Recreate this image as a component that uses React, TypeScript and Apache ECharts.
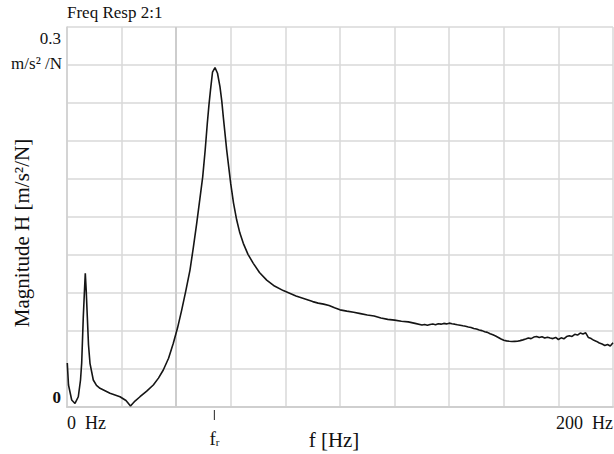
import React, { useEffect, useRef } from "react";
import * as echarts from "echarts";

// Frequency axis (Hz) and magnitude (m/s²/N)
const freqLow = [0.1, 0.55, 1.72, 2.93, 4.14, 4.95, 5.38, 5.97, 6.41, 6.7, 7.03, 7.44, 7.88, 8.42, 9.63, 10.8, 12.09, 15.75, 19.41, 21.6, 23.26, 24.9, 26.74, 29.2, 31.61, 33.5, 35.27, 37.2, 38.94, 40.5, 42.01, 43.5, 45.05, 46.3, 47.51, 48.6, 49.71, 50.6, 51.39, 52.0, 52.56, 53.3, 54.21, 55.13, 56.04, 56.7, 57.25, 58.5, 59.96, 61.0, 62.16, 63.3, 64.58, 66.3, 68.24, 70.5, 73.15, 76.0, 79.23, 83.88];
const magLow = [0.0347, 0.0174, 0.0055, 0.0028, 0.0081, 0.0213, 0.0347, 0.0713, 0.0923, 0.1055, 0.0923, 0.0713, 0.0489, 0.0345, 0.0213, 0.017, 0.0148, 0.0108, 0.0081, 0.0051, 0.0008, 0.0047, 0.0081, 0.0125, 0.0174, 0.0228, 0.0292, 0.0385, 0.0503, 0.0625, 0.0765, 0.0915, 0.1081, 0.1262, 0.1449, 0.1632, 0.1817, 0.2025, 0.2238, 0.2385, 0.2501, 0.2643, 0.2679, 0.2635, 0.2527, 0.2415, 0.2291, 0.2028, 0.1765, 0.1610, 0.1476, 0.1375, 0.1292, 0.1205, 0.1134, 0.1062, 0.1002, 0.0955, 0.0919, 0.0876];
const freqMid = [90, 92, 94, 96, 98, 100, 102.5, 105, 107.5, 110, 112.5, 115, 117.5, 120, 122.5, 125, 127.5];
const magMid = [0.0832, 0.082, 0.0812, 0.0801, 0.0783, 0.0767, 0.0757, 0.0748, 0.0737, 0.0726, 0.0718, 0.0702, 0.0692, 0.0686, 0.0677, 0.0672, 0.066];
const freqHigh = [130, 131, 132, 133, 134, 135, 136, 137, 138, 139, 140, 141, 142, 143, 144, 145, 146, 147, 148, 149, 150, 151, 152, 153, 154, 155, 156, 157, 158, 159, 160, 161, 162, 163, 164, 165, 166, 167, 168, 169, 170, 171, 172, 173, 174, 175, 176, 177, 178, 179, 180, 181, 182, 183, 184, 185, 186, 187, 188, 189, 190, 191, 192, 193, 194, 195, 196, 197, 198, 199, 200];
const magHigh = [0.0647, 0.0652, 0.0645, 0.0651, 0.0655, 0.065, 0.0657, 0.0654, 0.066, 0.0656, 0.0662, 0.0657, 0.0654, 0.0649, 0.0646, 0.0641, 0.0637, 0.0632, 0.0628, 0.062, 0.0616, 0.0608, 0.0603, 0.0594, 0.0589, 0.0578, 0.057, 0.056, 0.0549, 0.0537, 0.0527, 0.0522, 0.0519, 0.0517, 0.0518, 0.0519, 0.0524, 0.053, 0.0537, 0.0545, 0.054, 0.0552, 0.0556, 0.0548, 0.0554, 0.0544, 0.0551, 0.0545, 0.054, 0.0549, 0.0533, 0.0546, 0.0538, 0.0556, 0.0563, 0.0557, 0.0574, 0.0568, 0.0584, 0.0576, 0.0586, 0.0548, 0.054, 0.0526, 0.0518, 0.0505, 0.0497, 0.0486, 0.0494, 0.0482, 0.0507];

const resonanceFreq = 54;
const title = "Freq Resp 2:1";
const yTopLabel = "0.3";
const yUnitLabel = "m/s² /N";
const yZeroLabel = "0";
const xStartLabel = "0  Hz";
const xEndLabel = "200  Hz";
const xTitle = "f [Hz]";
const yTitle = "Magnitude H [m/s²/N]";

const FONT = "'Liberation Serif', 'DejaVu Serif', serif";

export default function App() {
  const ref = useRef<HTMLDivElement>(null);
  useEffect(() => {
    if (!ref.current) return;
    const chart = echarts.init(ref.current, undefined, { renderer: "svg" });
    const data: number[][] = [];
    freqLow.forEach((f, i) => data.push([f, magLow[i]]));
    freqMid.forEach((f, i) => data.push([f, magMid[i]]));
    freqHigh.forEach((f, i) => data.push([f, magHigh[i]]));
    const gridColor = "#d8d8d8";
    chart.setOption({
      animation: false,
      backgroundColor: "#ffffff",
      grid: { left: 67, top: 27, right: 1, bottom: 47, containLabel: false },
      xAxis: {
        type: "value",
        min: 0,
        max: 200,
        interval: 20,
        axisLabel: { show: false },
        axisTick: { show: false },
        axisLine: { show: true, lineStyle: { color: "#cfcfcf", width: 2 } },
        splitLine: { show: true, lineStyle: { color: gridColor, width: 1.5 } },
      },
      yAxis: {
        type: "value",
        min: 0,
        max: 0.3,
        interval: 0.03,
        axisLabel: { show: false },
        axisTick: { show: false },
        axisLine: { show: true, lineStyle: { color: "#cfcfcf", width: 1.5 } },
        splitLine: { show: true, lineStyle: { color: gridColor, width: 1.5 } },
      },
      series: [
        {
          type: "line",
          data,
          showSymbol: false,
          symbol: "none",
          smooth: false,
          lineStyle: { color: "#151515", width: 1.6 },
          markLine: {
            silent: true,
            symbol: "none",
            label: { show: false },
            lineStyle: { color: "#cdcdcd", width: 2, type: "solid" },
            data: [{ xAxis: 40 }],
          },
          z: 5,
        },
      ],
    });
    const fr = chart.convertToPixel({ gridIndex: 0 }, [resonanceFreq, 0]) as number[];
    chart.setOption({
      graphic: [
        { type: "text", left: 67, top: 4, style: { text: title, font: `17px ${FONT}`, fill: "#111" } },
        { type: "text", x: 61, y: 38, style: { text: yTopLabel, font: `17px ${FONT}`, fill: "#111", align: "right", verticalAlign: "middle" } },
        { type: "text", x: 62, y: 63, style: { text: yUnitLabel, font: `17px ${FONT}`, fill: "#111", align: "right", verticalAlign: "middle" } },
        { type: "text", x: 61, y: 397, style: { text: yZeroLabel, font: `bold 17px ${FONT}`, fill: "#111", align: "right", verticalAlign: "middle" } },
        { type: "text", x: 67, y: 423, style: { text: xStartLabel, font: `18px ${FONT}`, fill: "#111", align: "left", verticalAlign: "middle" } },
        { type: "text", x: 613, y: 423, style: { text: xEndLabel, font: `18px ${FONT}`, fill: "#111", align: "right", verticalAlign: "middle" } },
        { type: "line", shape: { x1: fr[0], y1: 410, x2: fr[0], y2: 420 }, style: { stroke: "#444", lineWidth: 1.2 } },
        {
          type: "text", x: fr[0], y: 438,
          style: {
            text: "{a|f}{b|r}",
            align: "center", verticalAlign: "middle",
            rich: {
              a: { font: `19px ${FONT}`, fill: "#111" },
              b: { font: `11px ${FONT}`, fill: "#111", padding: [8, 0, 0, 0] },
            },
          },
        },
        { type: "text", x: 334, y: 440, style: { text: xTitle, font: `21px ${FONT}`, fill: "#111", align: "center", verticalAlign: "middle" } },
        { type: "text", x: 22, y: 233, rotation: Math.PI / 2, style: { text: yTitle, font: `21px ${FONT}`, fill: "#111", align: "center", verticalAlign: "middle" } },
      ],
    });
    return () => chart.dispose();
  }, []);
  return <div ref={ref} style={{ position: "absolute", left: 0, top: 0, width: 614, height: 454 }} />;
}
